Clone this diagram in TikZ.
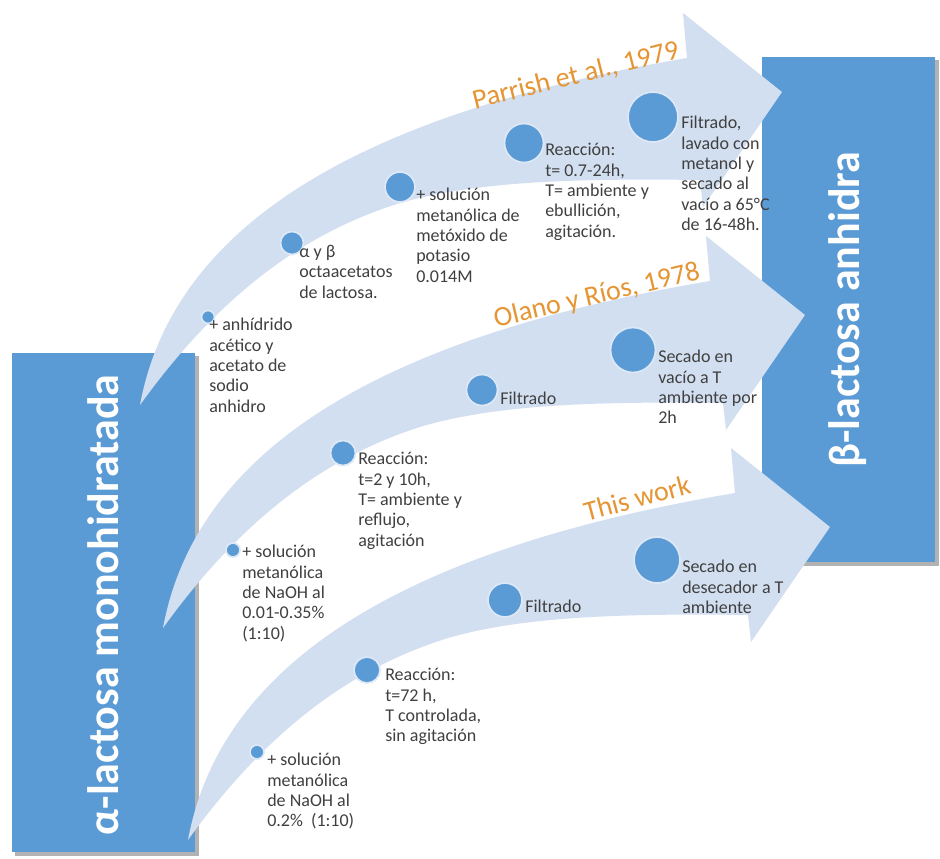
\documentclass[tikz,border=0pt]{standalone}
\usepackage{fontspec}
\setmainfont{Carlito}
\usepackage{tikz}

\definecolor{boxblue}{HTML}{5B9BD5}
\definecolor{bandblue}{HTML}{D2DFF0}
\definecolor{rimblue}{HTML}{DCE8F5}
\definecolor{notegray}{HTML}{404040}
\definecolor{refgold}{HTML}{E69533}

\begin{document}
\begin{tikzpicture}[x=0.75pt,y=-0.75pt,
  shade box/.style={fill=black!30},
  end box/.style={fill=boxblue},
  band/.style={fill=bandblue},
  dot/.style={circle,fill=boxblue,draw=rimblue,line width=1.3pt,inner sep=0pt,minimum size=#1*1.5pt},
  note/.style={anchor=north west,inner sep=0pt,align=left,text=notegray,font=\fontsize{13.5}{15.3}\selectfont},
  source/.style={text=refgold,inner sep=0pt,font=\fontsize{21}{21}\selectfont},
  end label/.style={rotate=90,text=white,inner sep=0pt,font=\bfseries\fontsize{33}{33}\selectfont}]
\useasboundingbox (0,0) rectangle (940,858);
\fill[white] (0,0) rectangle (940,858);
\fill[shade box] (15,356) rectangle (199,856);
\fill[end box] (12,353) rectangle (195,852);
\fill[shade box] (765,60) rectangle (939,566);
\fill[end box] (762,57) rectangle (935,562);
\node[end label] (alpha) at (103,605) {α-lactosa monohidratada};
\node[end label] (beta) at (848,310) {β-lactosa anhidra};

\fill[band] (140,405) .. controls (175,215) and (380,110) .. (687,58) -- (683,13) -- (782,92) -- (703,207) -- (700,180) .. controls (560,178) and (470,183) .. (400,203) .. controls (320,228) and (230,280) .. (140,405) -- cycle;
\fill[band,shift={(23,223)}] (140,405) .. controls (175,215) and (380,110) .. (687,58) -- (683,13) -- (782,92) -- (703,207) -- (700,180) .. controls (560,178) and (470,183) .. (400,203) .. controls (320,228) and (230,280) .. (140,405) -- cycle;
\fill[band,shift={(48,435)}] (140,405) .. controls (175,215) and (380,110) .. (687,58) -- (683,13) -- (782,92) -- (703,207) -- (700,180) .. controls (560,178) and (470,183) .. (400,203) .. controls (320,228) and (230,280) .. (140,405) -- cycle;

\node[source,rotate=14] (parrish) at (576,76) {Parrish et al., 1979};
\node[source,rotate=13.3] (olano) at (597,296) {Olano y Ríos, 1978};
\node[source,rotate=15] (thiswork) at (637,498) {This work};

\node[dot=6.5] (p1) at (208,317) {};
\node[dot=11.5] (p2) at (292,243) {};
\node[dot=15] (p3) at (400,187) {};
\node[dot=19.5] (p4) at (524,143) {};
\node[dot=25] (p5) at (653,117) {};
\node[note] (p1t) at (209,318) {+ anhídrido\\acético y\\acetato de\\sodio\\anhidro};
\node[note] (p2t) at (299,245) {α y β\\octaacetatos\\de lactosa.};
\node[note] (p3t) at (416,188) {+ solución\\metanólica de\\metóxido de\\potasio\\0.014M};
\node[note] (p4t) at (545,143) {Reacción:\\t= 0.7-24h,\\T= ambiente y\\ebullición,\\agitación.};
\node[note] (p5t) at (681,116) {Filtrado,\\lavado con\\metanol y\\secado al\\vacío a 65°C\\de 16-48h.};

\node[dot=7] (o1) at (233,550) {};
\node[dot=12.5] (o2) at (343,453) {};
\node[dot=15.5] (o3) at (482,390) {};
\node[dot=22.5] (o4) at (633,350) {};
\node[note] (o1t) at (242,545) {+ solución\\metanólica\\de NaOH al\\0.01-0.35\%\\(1:10)};
\node[note] (o2t) at (358,452) {Reacción:\\t=2 y 10h,\\T= ambiente y\\reflujo,\\agitación};
\node[note] (o3t) at (500,392) {Filtrado};
\node[note] (o4t) at (658,350) {Secado en\\vacío a T\\ambiente por\\2h};

\node[dot=7] (w1) at (257,752) {};
\node[dot=13] (w2) at (367,670) {};
\node[dot=17] (w3) at (505,600) {};
\node[dot=23] (w4) at (657,560) {};
\node[note] (w1t) at (267,753) {+ solución\\metanólica\\de NaOH al\\0.2\%\ \ (1:10)};
\node[note] (w2t) at (385,668) {Reacción:\\t=72 h,\\T controlada,\\sin agitación};
\node[note] (w3t) at (525,600) {Filtrado};
\node[note] (w4t) at (682,560) {Secado en\\desecador a T\\ambiente};
\end{tikzpicture}
\end{document}
